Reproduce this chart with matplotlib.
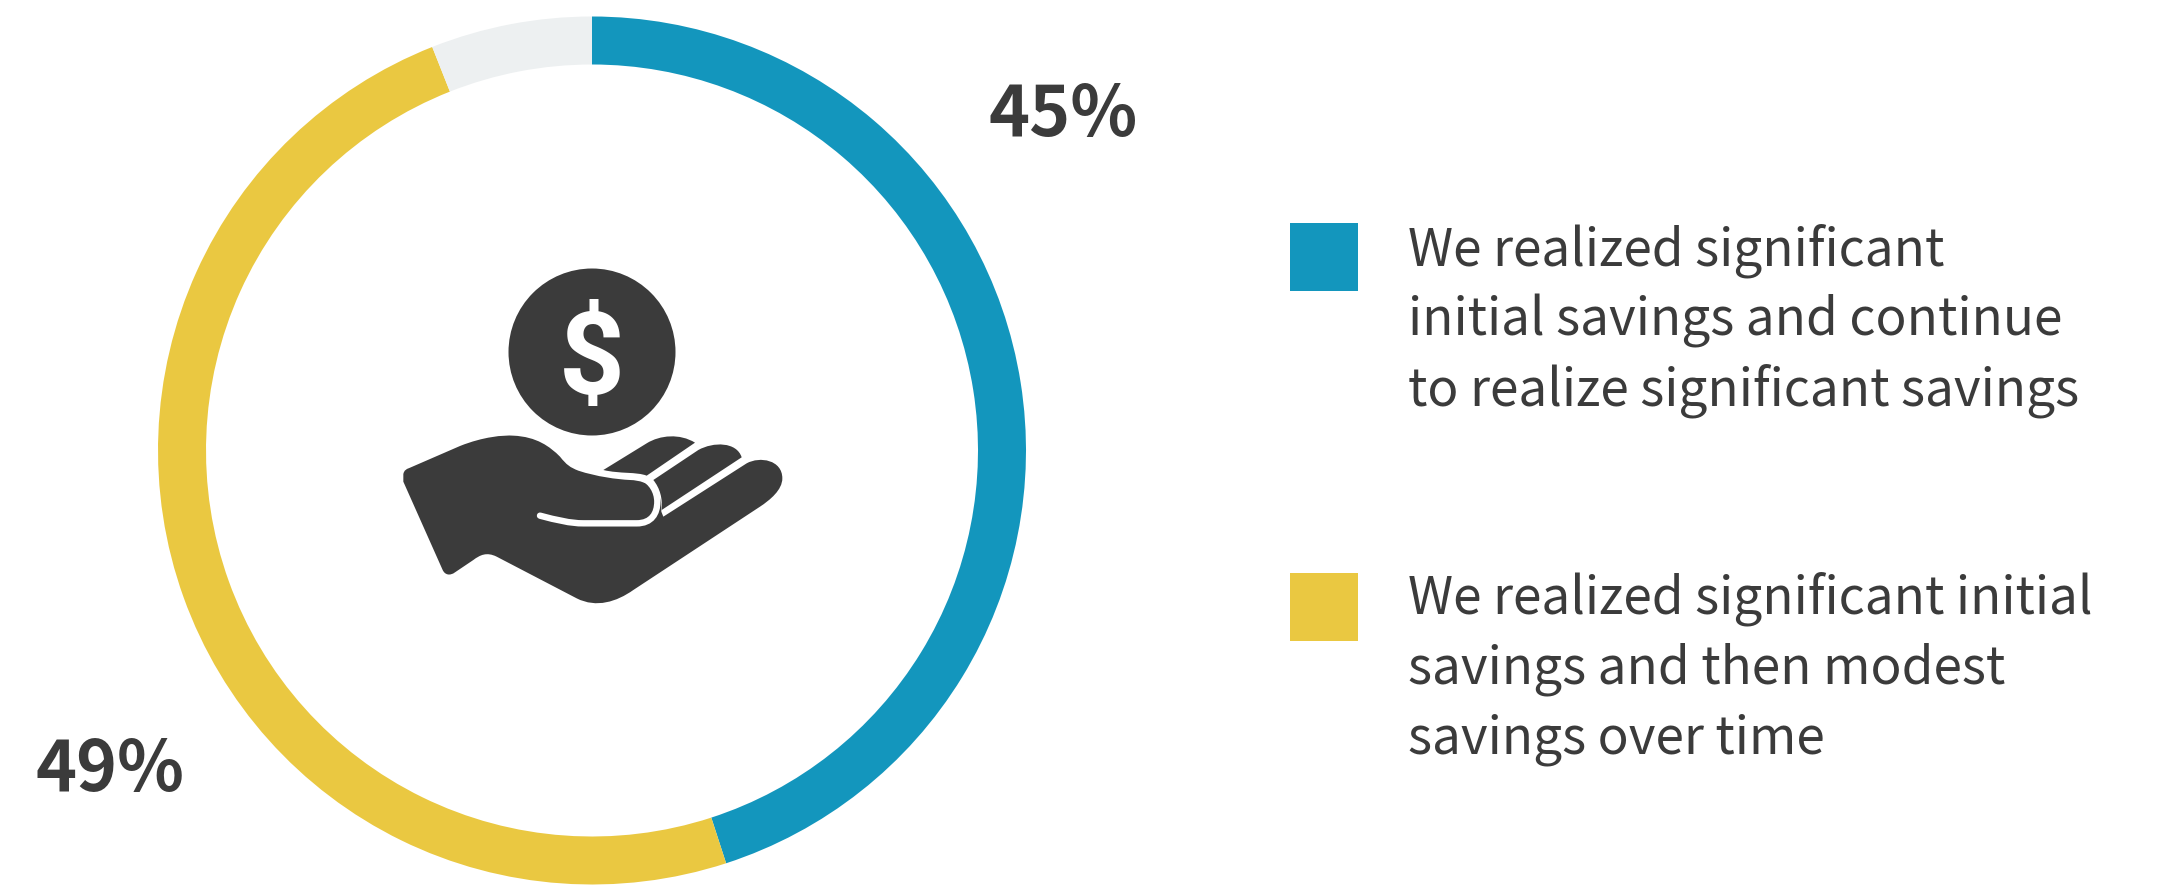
import matplotlib
matplotlib.use("Agg")
import matplotlib.pyplot as plt
from matplotlib.patches import Circle, PathPatch, Rectangle
from matplotlib.path import Path

plt.rcParams["font.family"] = ["Noto Sans CJK SC", "DejaVu Sans"]

shares = [45, 49, 6]
share_colors = ["#1396bd", "#eac841", "#edf0f1"]
share_labels = ["45%", "49%", ""]
legend_labels = [
    "We realized significant\ninitial savings and continue\nto realize significant savings",
    "We realized significant initial\nsavings and then modest\nsavings over time",
]

W, H = 2157, 886
DARK = "#3b3b3b"


def flip(py):
    return H - py


def zoom_pt(zx, zy):
    return 370 + zx / 3.0, flip(250 + zy / 3.0)


def make_path(start, segments):
    verts = [zoom_pt(*start)]
    codes = [Path.MOVETO]
    for seg in segments:
        if len(seg) == 1:
            verts.append(zoom_pt(*seg[0]))
            codes.append(Path.LINETO)
        else:
            for p in seg:
                verts.append(zoom_pt(*p))
                codes.append(Path.CURVE4)
    return Path(verts, codes)


fig = plt.figure(figsize=(W / 100, H / 100), dpi=100, facecolor="white")
ax = fig.add_axes([0, 0, 1, 1])

ax.pie(
    shares,
    colors=share_colors,
    startangle=90,
    counterclock=False,
    center=(592, flip(450.5)),
    radius=434,
    wedgeprops={"width": 48, "linewidth": 0},
    frame=True,
)
ax.set_xlim(0, W)
ax.set_ylim(0, H)
ax.axis("off")

ax.text(1063, flip(116), share_labels[0], fontsize=50, fontweight="bold",
        color=DARK, ha="center", va="center")
ax.text(110, flip(771), share_labels[1], fontsize=50, fontweight="bold",
        color=DARK, ha="center", va="center")

# legend
square_tops = [223, 573]
text_baselines = [265, 614]
for top, base, label, color in zip(square_tops, text_baselines, legend_labels, share_colors):
    ax.add_patch(Rectangle((1290, flip(top + 68)), 68, 68, facecolor=color, linewidth=0))
    for i, line in enumerate(label.split("\n")):
        ax.text(1408, flip(base + i * 70), line, fontsize=37, color=DARK,
                ha="left", va="baseline")

# coin
ax.add_patch(Circle((592, flip(352)), 83.5, facecolor=DARK, linewidth=0))
ax.text(592, flip(362), "$", fontsize=83, color="white", family="Roboto",
        fontweight="bold", ha="center", va="center")

# hand
hand = make_path((100, 672), [
    [(103, 660), (108, 658), (118, 654)],
    [(270, 588)],
    [(340, 560), (400, 555), (430, 557)],
    [(500, 560), (540, 590), (570, 620)],
    [(590, 645), (600, 652), (625, 662)],
    [(680, 680), (740, 688), (780, 690)],
    [(840, 692), (874, 725), (874, 770)],
    [(874, 785)],
    [(880, 800)],
    [(1130, 640)],
    [(1170, 618), (1237, 630), (1237, 685)],
    [(1237, 720), (1200, 750), (1170, 770)],
    [(790, 1020)],
    [(740, 1055), (680, 1075), (620, 1045)],
    [(380, 920)],
    [(350, 905), (330, 915), (310, 930)],
    [(255, 967)],
    [(240, 978), (225, 975), (218, 960)],
    [(100, 695)],
    [(100, 672)],
])
ax.add_patch(PathPatch(hand, facecolor=DARK, linewidth=0))

thumb_gap = make_path((510, 797), [
    [(560, 810), (600, 820), (640, 820)],
    [(800, 820)],
    [(845, 820), (862, 790), (862, 755)],
    [(862, 725), (845, 695), (815, 682)],
])
ax.add_patch(PathPatch(thumb_gap, facecolor="none", edgecolor="white", linewidth=4.6,
                       capstyle="round"))

finger_mid = make_path((850, 690), [
    [(985, 600)],
    [(1030, 575), (1100, 575), (1115, 622)],
    [(875, 780)],
    [(878, 745), (870, 715), (850, 690)],
])
finger_top = make_path((700, 660), [
    [(830, 580)],
    [(870, 555), (930, 550), (975, 578)],
    [(830, 677)],
    [(800, 665), (750, 672), (700, 660)],
])
ax.add_patch(PathPatch(finger_mid, facecolor=DARK, linewidth=0))
ax.add_patch(PathPatch(finger_top, facecolor=DARK, linewidth=0))

fig.savefig("out.png", dpi=100)
